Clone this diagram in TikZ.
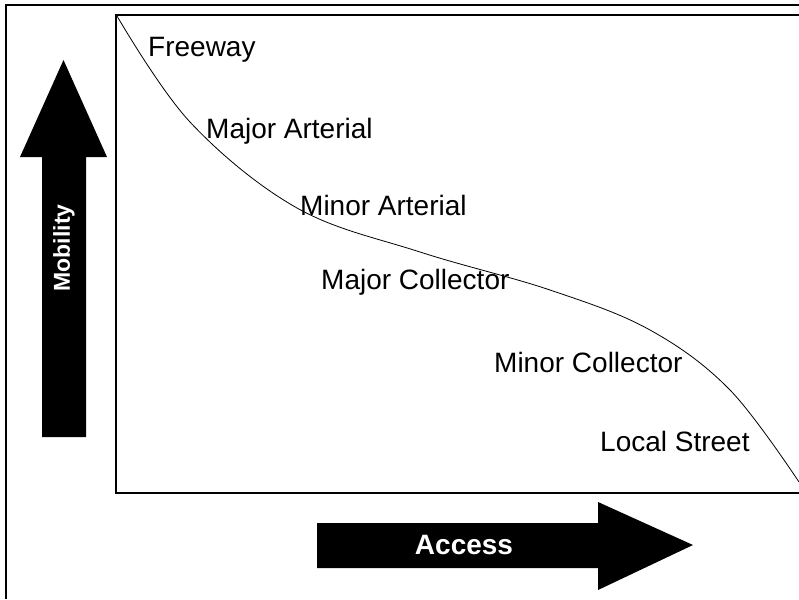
\documentclass[tikz,border=0pt]{standalone}
\usepackage{fontspec}
\setmainfont{Liberation Sans}
\tikzstyle{road}=[anchor=base west, inner sep=0pt, font=\fontsize{28}{31}\selectfont]
\tikzstyle{bigarrow}=[fill=black]
\tikzstyle{arrtext}=[text=white, inner sep=0pt, font=\bfseries\fontsize{28}{31}\selectfont]

\begin{document}
\begin{tikzpicture}[x=1pt, y=-1pt]
    \useasboundingbox (0,0) rectangle (799,599);
    % frames
    \draw[line width=1.2pt] (799,5) -- (6,5) -- (6,599);
    \draw[line width=2pt] (799,15) -- (116,15) -- (116,493) -- (799,493);
    % big arrows
    \fill[bigarrow] (42,437) -- (42,157) -- (20,157) -- (63.5,60) -- (107,157)
        -- (86,157) -- (86,437) -- cycle;
    \fill[bigarrow] (317,523) -- (598,523) -- (598,502) -- (693,545) -- (598,590)
        -- (598,568) -- (317,568) -- cycle;
    \node[arrtext, rotate=90, font=\bfseries\fontsize{23}{26}\selectfont] (mob) at (64,248) {Mobility};
    \node[arrtext, anchor=base] (acc) at (464,554) {Access};
    % curve
    \draw[line width=0.8pt] plot[smooth, tension=0.6] coordinates {(117,16) (190,122)
        (297,208) (420,252) (550,290) (650,330) (730,390) (799,482)};
    % road classes
    \node[road] (fwy) at (148,57) {Freeway};
    \node[road] (majart) at (206,138) {Major Arterial};
    \node[road] (minart) at (300,215) {Minor Arterial};
    \node[road] (majcol) at (321,289) {Major Collector};
    \node[road] (mincol) at (494,372) {Minor Collector};
    \node[road] (local) at (600,451) {Local Street};
\end{tikzpicture}
\end{document}
